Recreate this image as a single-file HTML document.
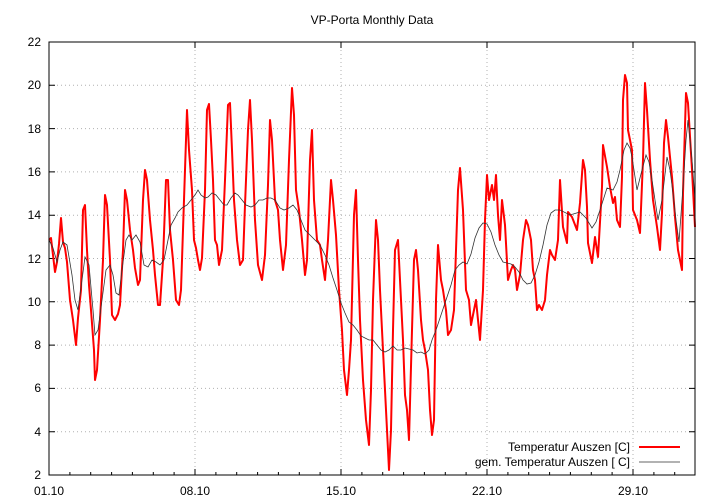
<!DOCTYPE html>
<html><head><meta charset="utf-8"><style>body{margin:0;background:#fff}svg{display:block}text{font-family:"Liberation Sans",sans-serif;font-size:12px;fill:#000}</style></head>
<body>
<svg width="720" height="504" viewBox="0 0 720 504" xmlns="http://www.w3.org/2000/svg">
<rect width="720" height="504" fill="#fff"/>
<text x="372" y="24" text-anchor="middle">VP-Porta Monthly Data</text>
<g stroke="#b0b0b0" stroke-dasharray="1,3" stroke-width="1">
<line x1="49" y1="85.3" x2="695" y2="85.3"/><line x1="49" y1="128.6" x2="695" y2="128.6"/><line x1="49" y1="171.9" x2="695" y2="171.9"/><line x1="49" y1="215.2" x2="695" y2="215.2"/><line x1="49" y1="258.5" x2="695" y2="258.5"/><line x1="49" y1="301.8" x2="695" y2="301.8"/><line x1="49" y1="345.1" x2="695" y2="345.1"/><line x1="49" y1="388.4" x2="695" y2="388.4"/><line x1="49" y1="431.7" x2="695" y2="431.7"/>
<line x1="195" y1="42" x2="195" y2="475"/><line x1="341" y1="42" x2="341" y2="475"/><line x1="487" y1="42" x2="487" y2="475"/><line x1="633" y1="42" x2="633" y2="475"/>
</g>
<g text-anchor="end">
<text x="41" y="479">2</text><text x="41" y="436">4</text><text x="41" y="392">6</text><text x="41" y="349">8</text><text x="41" y="306">10</text><text x="41" y="263">12</text><text x="41" y="219">14</text><text x="41" y="176">16</text><text x="41" y="133">18</text><text x="41" y="89">20</text><text x="41" y="46">22</text>
</g>
<g text-anchor="middle">
<text x="49" y="495">01.10</text><text x="195" y="495">08.10</text><text x="341" y="495">15.10</text><text x="487" y="495">22.10</text><text x="633" y="495">29.10</text>
</g>
<g stroke="#000" stroke-width="1">
<path d="M49 475h6M49 431.7h6M49 388.4h6M49 345.1h6M49 301.8h6M49 258.5h6M49 215.2h6M49 171.9h6M49 128.6h6M49 85.3h6M49 42h6M695 475h-6M695 431.7h-6M695 388.4h-6M695 345.1h-6M695 301.8h-6M695 258.5h-6M695 215.2h-6M695 171.9h-6M695 128.6h-6M695 85.3h-6M695 42h-6"/>
<path d="M49 475v-6M195 475v-6M341 475v-6M487 475v-6M633 475v-6M195 42v6M341 42v6M487 42v6M633 42v6"/>
<path d="M69.9 475v-3M90.7 475v-3M111.6 475v-3M132.4 475v-3M153.3 475v-3M174.1 475v-3M215.9 475v-3M236.7 475v-3M257.6 475v-3M278.4 475v-3M299.3 475v-3M320.1 475v-3M361.9 475v-3M382.7 475v-3M403.6 475v-3M424.4 475v-3M445.3 475v-3M466.1 475v-3M507.9 475v-3M528.7 475v-3M549.6 475v-3M570.4 475v-3M591.3 475v-3M612.1 475v-3M653.9 475v-3M674.7 475v-3"/>
</g>
<polyline fill="none" stroke="#ff0000" stroke-width="2" stroke-linejoin="round" points="49,240 51,238 53,255 55,272 57,262 59,244 61,218 63,242 65,248 67,262 70,300 73,320 76,345 78,318 81,290 83,210 85,205 87,250 89,285 91,310 94,350 95,380 97,370 100,320 103,260 105,195 107,205 110,260 112,315 115,320 118,314 120,305 123,250 125,190 127,200 130,230 133,250 135,268 138,285 140,280 143,200 145,170 147,180 150,220 153,250 155,275 158,305 160,305 163,260 166,180 168,180 170,230 173,260 176,300 179,305 181,290 184,200 187,110 189,150 192,190 194,240 196,248 198,260 200,270 202,258 205,190 207,110 209,104 211,140 213,180 215,240 217,245 219,265 222,250 225,180 228,105 230,103 232,150 234,200 237,240 240,265 243,260 245,205 248,130 250,100 252,140 255,220 258,265 262,280 265,255 268,185 270,120 272,140 275,200 278,210 280,240 283,270 286,245 289,160 292,88 294,115 296,190 299,210 302,240 305,275 307,260 310,160 312,130 314,200 317,240 320,245 322,260 325,280 328,240 331,180 333,200 336,235 339,290 342,330 344,370 347,395 349,370 351,340 354,215 356,190 358,260 360,320 363,380 366,420 369,445 371,390 373,300 376,220 378,240 380,290 382,330 384,370 386,410 389,470 391,430 393,330 395,250 398,240 400,280 403,340 405,395 407,410 409,440 412,330 414,260 416,250 418,270 421,320 423,340 425,350 428,370 430,410 432,435 434,420 436,300 438,245 441,280 443,290 446,310 448,335 451,330 454,310 456,250 458,190 460,168 463,210 466,290 469,300 471,325 474,310 476,300 478,320 480,340 483,290 485,220 487,175 489,200 492,185 494,200 496,175 498,215 500,240 502,200 505,225 508,280 511,270 513,265 515,270 517,290 520,275 523,240 526,220 528,225 531,240 533,270 535,280 537,310 539,305 542,310 545,300 547,275 550,250 552,255 555,260 558,240 560,180 563,227 567,243 568,212 572,217 577,230 580,203 583,160 585,170 587,207 588,243 592,263 595,237 598,257 602,187 603,145 607,167 610,187 613,203 615,197 617,220 620,227 622,177 623,100 625,75 627,83 628,130 632,150 633,210 637,220 640,233 643,160 645,83 647,110 650,160 653,200 657,227 660,250 662,213 664,143 666,120 668,137 672,177 675,217 678,250 682,270 683,193 686,93 688,103 692,170 695,227"/>
<polyline fill="none" stroke="#333" stroke-width="0.8" points="49,240 53,248 57,262 60,250 63,242 67,245 72,275 75,300 78,310 82,280 85,257 89,265 93,310 95,335 98,330 102,300 106,270 110,265 113,275 116,293 119,295 122,270 126,240 129,235 132,240 136,235 140,242 144,265 148,267 152,260 156,262 160,265 164,260 167,245 171,225 175,218 178,212 182,208 187,205 191,200 195,195 198,190 201,195 205,198 208,197 212,193 216,195 220,200 224,205 227,205 231,198 235,193 238,195 242,200 246,205 251,207 255,205 259,200 263,200 267,198 271,198 275,200 280,208 284,210 289,208 293,205 297,210 301,220 305,230 310,235 315,240 320,245 325,255 329,265 333,278 337,290 341,303 345,313 349,322 353,325 357,330 361,336 365,338 369,340 373,340 377,345 381,350 385,352 389,350 393,346 397,350 401,350 405,348 409,349 413,350 417,353 421,352 425,354 429,350 432,340 436,330 441,315 446,300 451,285 455,270 459,265 463,262 467,264 471,254 475,238 479,228 483,223 487,224 491,232 495,245 499,255 503,262 507,263 511,264 515,267 519,272 523,280 527,284 531,283 535,275 539,262 543,245 547,225 551,213 555,210 560,210 570,215 580,212 586,218 592,228 596,222 600,210 607,188 613,190 617,182 620,170 624,150 627,143 630,148 632,157 637,190 642,170 646,155 649,162 652,180 655,200 658,220 662,200 667,157 670,170 673,193 676,220 679,242 683,187 686,140 688,120 692,160 695,200"/>
<rect x="49" y="42" width="646" height="433" fill="none" stroke="#000" stroke-width="1"/>
<g text-anchor="end">
<text x="630" y="451">Temperatur Auszen [C]</text>
<text x="630" y="466">gem. Temperatur Auszen [ C]</text>
</g>
<line x1="639" y1="447" x2="680" y2="447" stroke="#ff0000" stroke-width="2"/>
<line x1="639" y1="462" x2="680" y2="462" stroke="#333" stroke-width="0.8"/>
</svg>
</body></html>
